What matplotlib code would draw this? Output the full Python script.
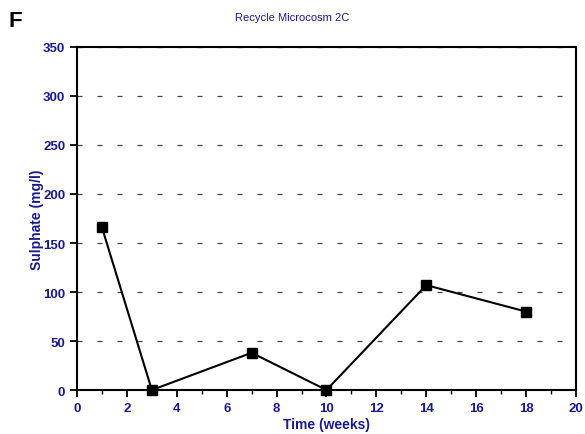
import matplotlib
matplotlib.use("Agg")
import matplotlib.pyplot as plt
from matplotlib.ticker import MultipleLocator

plt.rcParams['font.family'] = ['Liberation Sans', 'DejaVu Sans']

weeks = [1, 3, 7, 10, 14, 18]
sulphate = [166, 0, 38, 0, 107, 80]

navy = '#1a1a8c'

fig = plt.figure(figsize=(5.85, 4.35), dpi=100)
ax = fig.add_axes([0.1316, 0.1011, 0.853, 0.7886])

ax.plot(weeks, sulphate, color='black', lw=1.5, marker='s', ms=7,
        mfc='black', mec='black', clip_on=False, zorder=3)

ax.set_xlim(0, 20)
ax.set_ylim(0, 350)
ax.xaxis.set_major_locator(MultipleLocator(2))
ax.xaxis.set_minor_locator(MultipleLocator(1))
ax.yaxis.set_major_locator(MultipleLocator(50))

ax.yaxis.grid(True, which='major', color='#444444', ls=(0, (4, 12)), lw=0.9)
ax.set_axisbelow(True)

for s in ax.spines.values():
    s.set_linewidth(1.5)
    s.set_color('black')

ax.tick_params(axis='both', which='major', direction='out', length=5, width=1.3,
               colors='black', labelcolor=navy, labelsize=9.5)
ax.tick_params(axis='x', which='minor', direction='out', length=3, width=1.0)
for lbl in ax.get_xticklabels() + ax.get_yticklabels():
    lbl.set_fontweight('bold')

ax.set_xlabel('Time (weeks)', color=navy, fontweight='bold', fontsize=10, labelpad=2)
ax.set_ylabel('Sulphate (mg/l)', color=navy, fontweight='bold', fontsize=10, labelpad=-1)

fig.text(0.5, 0.958, 'Recycle Microcosm 2C', color=navy, fontsize=8, ha='center', va='center')
fig.text(0.014, 0.95, 'F', color='black', fontsize=16, fontweight='bold', ha='left', va='center')

fig.savefig('out.png', dpi=100)
